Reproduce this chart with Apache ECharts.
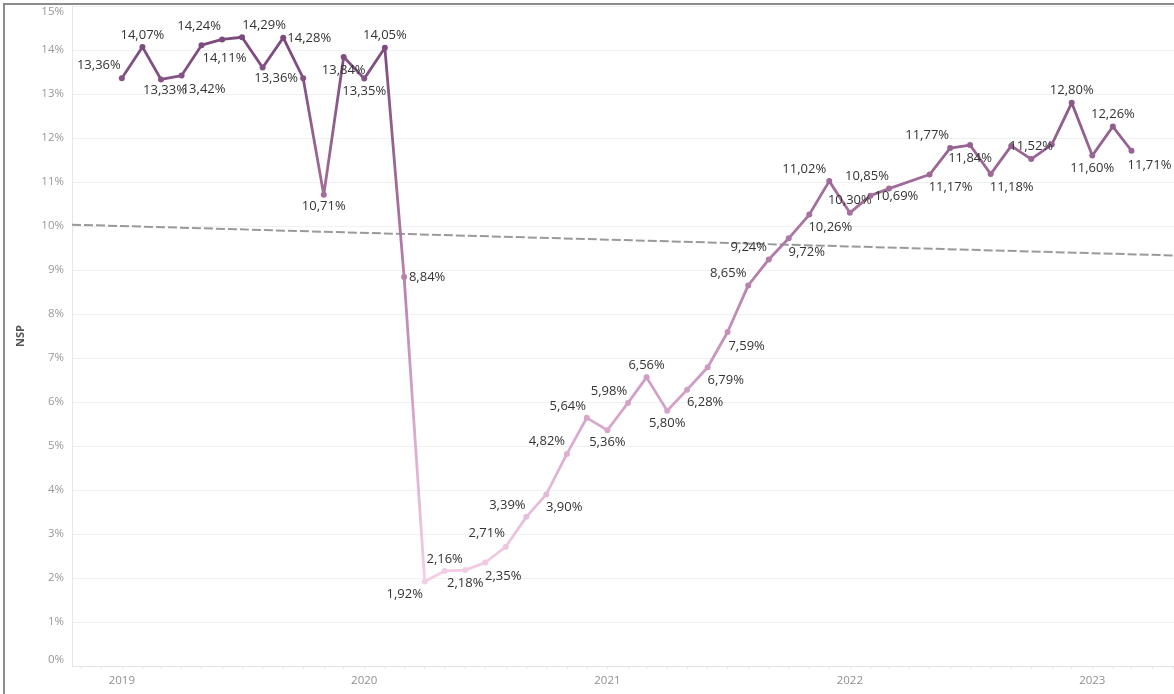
<!DOCTYPE html>
<html>
<head>
<meta charset="utf-8">
<script src="https://cdn.jsdelivr.net/npm/echarts@6/dist/echarts.min.js"></script>
<style>
  html, body { margin: 0; padding: 0; background: #fff; overflow: hidden; }
  #nspChart { position: absolute; left: 0; top: 0; width: 1174px; height: 694px; }
  #frame {
    position: absolute; left: 3px; top: 3px; width: 1200px; height: 700px;
    border-left: 2px solid #8c8c8c; border-top: 2px solid #8c8c8c;
    pointer-events: none;
  }
</style>
</head>
<body>
<div id="nspChart"></div>
<div id="frame"></div>
<script>
// monthly NSP, April 2022 has no value
const months = [
  '2019-01', '2019-02', '2019-03', '2019-04', '2019-05', '2019-06',
  '2019-07', '2019-08', '2019-09', '2019-10', '2019-11', '2019-12',
  '2020-01', '2020-02', '2020-03', '2020-04', '2020-05', '2020-06',
  '2020-07', '2020-08', '2020-09', '2020-10', '2020-11', '2020-12',
  '2021-01', '2021-02', '2021-03', '2021-04', '2021-05', '2021-06',
  '2021-07', '2021-08', '2021-09', '2021-10', '2021-11', '2021-12',
  '2022-01', '2022-02', '2022-03', '2022-05', '2022-06', '2022-07',
  '2022-08', '2022-09', '2022-10', '2022-11', '2022-12',
  '2023-01', '2023-02', '2023-03'
]
const nspValues = [
  13.36, 14.07, 13.33, 13.42, 14.11, 14.24, 14.29, 13.60, 14.28, 13.36, 10.71, 13.84,
  13.35, 14.05, 8.84, 1.92, 2.16, 2.18, 2.35, 2.71, 3.39, 3.90, 4.82, 5.64,
  5.36, 5.98, 6.56, 5.80, 6.28, 6.79, 7.59, 8.65, 9.24, 9.72, 10.26, 11.02,
  10.30, 10.69, 10.85, 11.17, 11.77, 11.84, 11.18, 11.82, 11.52, 11.85, 12.80,
  11.60, 12.26, 11.71
]
// trend line at the axis ends
const trendDates = ['2018-10-18', '2023-05-04']
const trendValues = [10.03, 9.33]
const yearTicks = ['2019', '2020', '2021', '2022', '2023']

// label placement per point [dx, dy], null = label hidden (as in the original)
const labelOffsets = [
  [-23, -13], [0, -12], [4, 11], [22, 14], [23, 13], [-23, -13], [22, -12], null, [26, 1], [-27, 0], [0, 12], [0, 13],
  [0, 13], [0, -13], [23, 0], [-20, 13], [0, -12], [0, 13], [18, 14], [-19, -13], [-19, -12], [18, 13], [-20, -13], [-19, -12],
  [0, 12], [-19, -12], [0, -12], [0, 12], [18, 13], [18, 13], [19, 14], [-20, -12], [-20, -12], [18, 14], [21, 13], [-25, -12],
  [0, -13], [26, 1], [-22, -12], [21, 13], [-23, -13], [0, 13], [21, 13], null, [0, -13], null, [0, -13],
  [0, 13], [0, -12], [18, 15]
]

function toTime(s) {
  const p = s.split('-').map(Number)
  return Date.UTC(p[0], (p[1] || 1) - 1, p[2] || 1)
}
function pct(v) {
  return v.toFixed(2).replace('.', ',') + '%'
}

const xMin = toTime(trendDates[0])
const xMax = toTime(trendDates[1])
const monthTicks = []
for (let y = 2018; y <= 2023; y++) {
  for (let m = 0; m < 12; m++) {
    const t = Date.UTC(y, m, 1)
    if (t > xMin && t < xMax) monthTicks.push(t)
  }
}

const lineData = months.map((m, i) => {
  const off = labelOffsets[i]
  return {
    value: [toTime(m), nspValues[i]],
    label: off ? { show: true, offset: off } : { show: false }
  }
})

const chart = echarts.init(document.getElementById('nspChart'))
const options = {
  animation: false,
  textStyle: { fontFamily: 'Open Sans' },
  grid: { left: 72, right: 0, top: 6, bottom: 28 },
  visualMap: {
    show: false,
    type: 'continuous',
    seriesIndex: 0,
    dimension: 1,
    min: 1.9,
    max: 14.3,
    inRange: { color: ['#f3cfe6', '#d3a2c9', '#a9739f', '#7a4a7d'] }
  },
  xAxis: {
    type: 'value',
    min: xMin,
    max: xMax,
    axisLine: { lineStyle: { color: '#e2e2e2' } },
    axisTick: { show: true, customValues: monthTicks, length: 3, lineStyle: { color: '#e6e6e6' } },
    axisLabel: {
      customValues: yearTicks.map(y => toTime(y)),
      formatter: v => String(new Date(v).getUTCFullYear()),
      color: '#8f8f8f',
      fontSize: 11.5,
      margin: 9
    },
    splitLine: { show: false }
  },
  yAxis: {
    type: 'value',
    min: 0,
    max: 15,
    interval: 1,
    name: 'NSP',
    nameLocation: 'middle',
    nameGap: 46,
    nameTextStyle: { color: '#555', fontWeight: 'bold', fontSize: 11 },
    axisLine: { show: true, lineStyle: { color: '#e6e6e6' } },
    axisTick: { show: false },
    axisLabel: {
      formatter: '{value}%',
      color: '#999',
      fontSize: 11.5,
      margin: 8,
      verticalAlignMaxLabel: 'top',
      verticalAlignMinLabel: 'bottom'
    },
    splitLine: { lineStyle: { color: '#f0f0f0' } }
  },
  series: [
    {
      name: 'NSP',
      type: 'line',
      data: lineData,
      symbol: 'circle',
      symbolSize: 6,
      lineStyle: { width: 2.8 },
      label: {
        position: 'inside',
        formatter: p => pct(p.value[1]),
        color: '#333',
        fontSize: 13,
        fontFamily: 'Open Sans'
      },
      z: 3
    },
    {
      name: 'Trend',
      type: 'line',
      data: trendDates.map((d, i) => [toTime(d), trendValues[i]]),
      symbol: 'none',
      silent: true,
      lineStyle: { color: '#9a9a9a', width: 2, type: [9, 3] },
      z: 2
    }
  ]
}
chart.setOption(options)
</script>
</body>
</html>
